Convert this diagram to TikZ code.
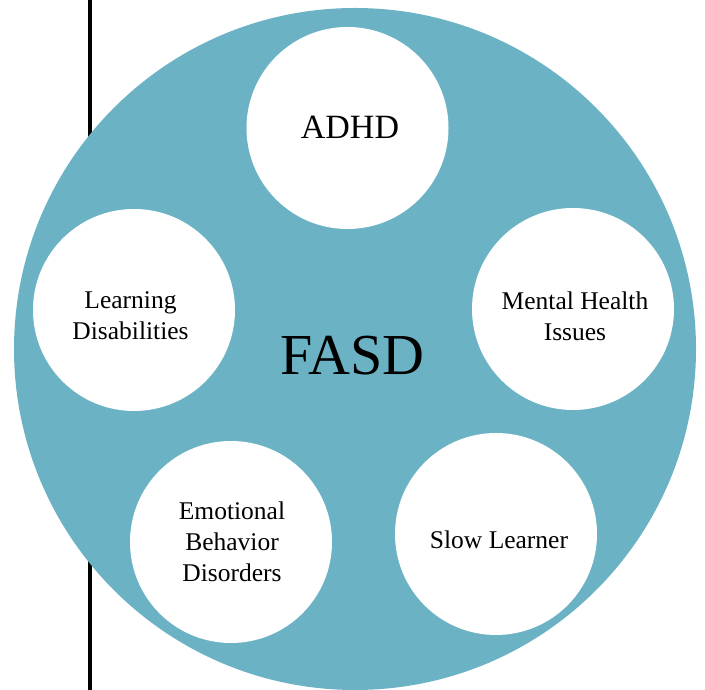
\documentclass[tikz,border=0pt]{standalone}
\usepackage{fontspec}
\setmainfont{Liberation Serif}
\definecolor{fasdteal}{RGB}{107,179,196}
\begin{document}
\begin{tikzpicture}[x=1pt,y=1pt,
  bigdisc/.style={circle,fill=fasdteal,minimum size=682pt,inner sep=0pt},
  smalldisc/.style={circle,fill=white,minimum size=202pt,inner sep=0pt},
  lbl/.style={anchor=base,align=center,inner sep=0pt,font=\fontsize{25.5}{31}\selectfont},
  biglbl/.style={anchor=base,inner sep=0pt,font=\fontsize{34}{40}\selectfont},
  titlelbl/.style={anchor=base,inner sep=0pt,font=\fontsize{58}{64}\selectfont}]
\useasboundingbox (0,0) rectangle (705,690);
\clip (0,0) rectangle (705,690);
\coordinate (lt) at (90,690);
\coordinate (lb) at (90,0);
\draw[line width=4.5pt,black] (lt) -- (lb);
\node[bigdisc] (fasd) at (355,341) {};
\node[smalldisc] (c1) at (347.5,562) {};
\node[smalldisc] (c2) at (573,381) {};
\node[smalldisc] (c3) at (134,380) {};
\node[smalldisc] (c4) at (231,148) {};
\node[smalldisc] (c5) at (496,156) {};
\node[titlelbl] (t0) at (352.5,315) {FASD};
\node[biglbl] (t1) at (350,551.7) {ADHD};
\node[lbl] (t2) at (575,349.3) {Mental Health\\Issues};
\node[lbl] (t3) at (130.5,350) {Learning\\Disabilities};
\node[lbl] (t4) at (232,108.3) {Emotional\\Behavior\\Disorders};
\node[lbl] (t5) at (499,141.7) {Slow Learner};
\end{tikzpicture}
\end{document}
